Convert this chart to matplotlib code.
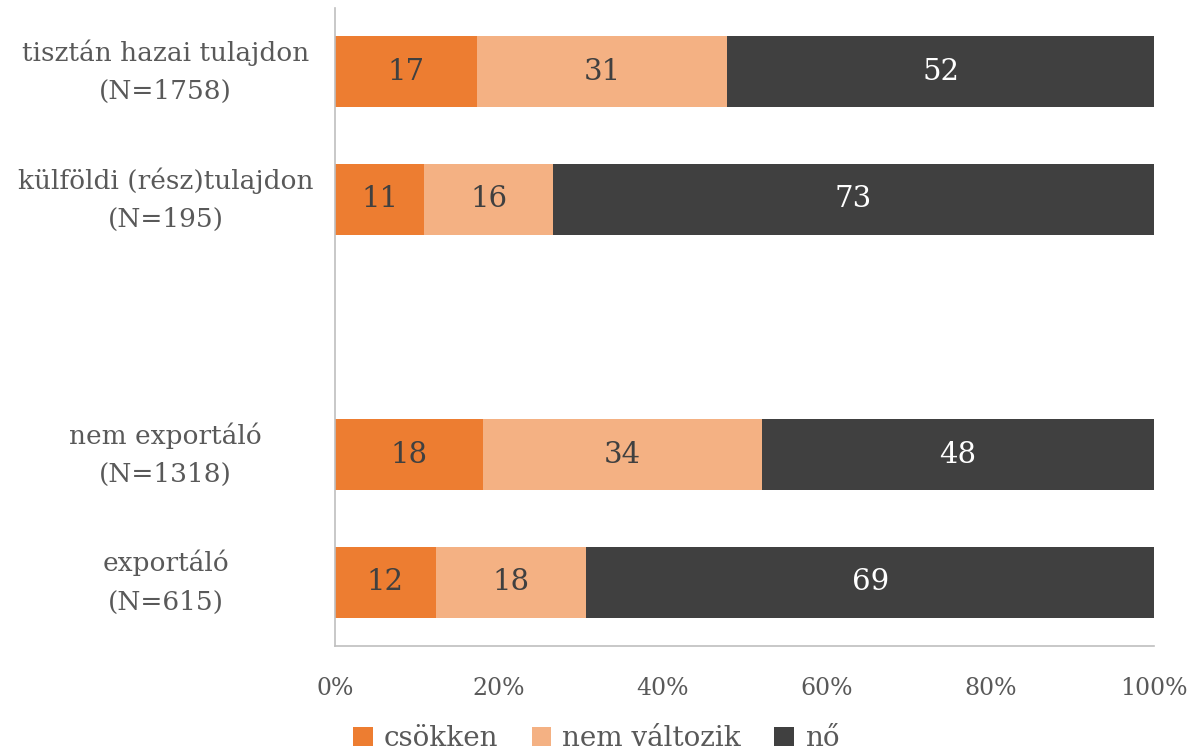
import numpy as np
import matplotlib as mpl
mpl.use('Agg')
import matplotlib.pyplot as plt

plt.rcParams['font.family'] = ['DejaVu Serif']

# categories (empty slot between the two groups)
groups = ['tisztán hazai tulajdon\n(N=1758)', 'külföldi (rész)tulajdon\n(N=195)', '',
          'nem exportáló\n(N=1318)', 'exportáló\n(N=615)']
csokken = [17.3, 10.9, np.nan, 18.1, 12.3]
nem_valt = [30.6, 15.7, np.nan, 34.0, 18.4]
no = [52.1, 73.4, np.nan, 47.9, 69.3]
series_names = ['csökken', 'nem változik', 'nő']
colors = ['#ED7D31', '#F4B183', '#404040']
txt_colors = ['#404040', '#404040', 'white']

fig = plt.figure(figsize=(11.93, 7.53), dpi=100)
ax = fig.add_axes([0.2808, 0.1421, 0.6865, 0.8473])

y = np.arange(len(groups))
left = np.zeros(len(groups))
for vals, name, c, tc in zip([csokken, nem_valt, no], series_names, colors, txt_colors):
  vals = np.array(vals)
  ok = ~np.isnan(vals)
  ax.barh(y[ok], vals[ok], left=left[ok], height=0.555, color=c, label=name)
  for yi, v, l in zip(y[ok], vals[ok], left[ok]):
    ax.text(l + v/2, yi, '%.0f' % v, ha='center', va='center', color=tc, fontsize=21)
  left[ok] += vals[ok]

ax.set_xlim(0, 100)
ax.set_ylim(4.5, -0.5)
ax.set_yticks(y)
ax.set_yticklabels(groups, fontsize=19, color='#595959', ha='center', va='center',
                   linespacing=1.65)
ax.tick_params(axis='y', length=0, pad=122)
ax.set_xticks(np.arange(0, 101, 20))
ax.set_xticklabels(['%d%%' % t for t in range(0, 101, 20)], fontsize=17, color='#595959')
ax.tick_params(axis='x', length=0, pad=22)
for s in ['top', 'right']:
  ax.spines[s].set_visible(False)
for s in ['left', 'bottom']:
  ax.spines[s].set_color('#BFBFBF')
  ax.spines[s].set_linewidth(1.2)

leg = fig.legend(loc='lower center', bbox_to_anchor=(0.5, -0.032), ncol=3, frameon=False,
                 fontsize=20, handlelength=0.7, handleheight=0.7, handletextpad=0.4,
                 columnspacing=1.2)
for t in leg.get_texts():
  t.set_color('#595959')

fig.savefig('out.png', dpi=100)
